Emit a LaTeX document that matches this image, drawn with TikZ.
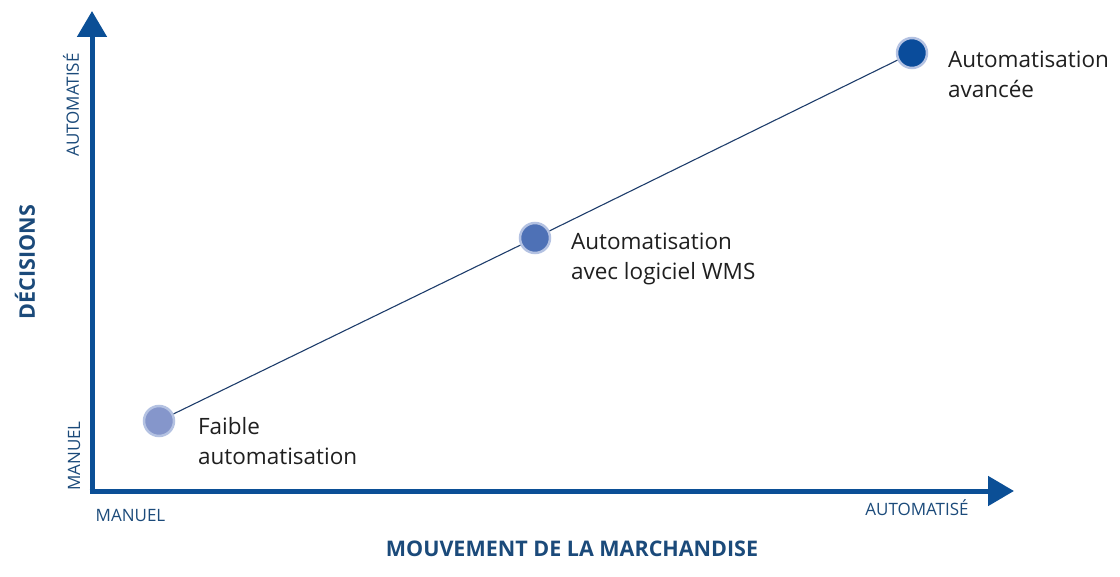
\documentclass[tikz,border=0pt]{standalone}
\usepackage{fontspec}
\setmainfont{Open Sans}
\usetikzlibrary{arrows.meta}
\definecolor{axisblue}{HTML}{0B4F96}
\definecolor{labblue}{HTML}{1B4A7A}
\definecolor{linkblue}{HTML}{1E3D6B}
\definecolor{dotA}{HTML}{8596CB}
\definecolor{dotB}{HTML}{4E71B6}
\definecolor{dotC}{HTML}{0A4C9B}
\definecolor{halo}{HTML}{B4C2E2}
\tikzset{
  axis/.style={line width=5pt, draw=axisblue, -{Triangle[length=26pt,width=29pt]}},
  dot/.style={circle, minimum size=30pt, inner sep=0pt, draw=halo, line width=2.5pt},
  desc/.style={anchor=west, align=left, text=black!88, font=\fontsize{22.5}{30}\selectfont},
  tick/.style={text=labblue, font=\fontsize{17}{18}\selectfont},
  title/.style={text=labblue, font=\bfseries\fontsize{21.5}{24}\selectfont},
  link/.style={draw=linkblue, line width=1.1pt}
}
\begin{document}
\begin{tikzpicture}[x=1pt,y=-1pt]
\useasboundingbox (0,0) rectangle (1120,577);
\coordinate (o) at (92,491);
\coordinate (ytip) at (92,11);
\coordinate (xtip) at (1014,491);
\draw[axis] (92,493.5) -- (ytip);
\draw[axis] (89.5,491) -- (xtip);
\node[dot, fill=dotA] (p1) at (159,421) {};
\node[dot, fill=dotB] (p2) at (535,238) {};
\node[dot, fill=dotC] (p3) at (912,53) {};
\draw[link] (p1) -- (p2);
\draw[link] (p2) -- (p3);
\node[desc] (t1) at (194.5,441) {Faible\\automatisation};
\node[desc] (t2) at (567.5,259) {Automatisation\\avec logiciel WMS};
\node[desc] (t3) at (944.5,74) {Automatisation\\avancée};
\node[tick, rotate=90] (ya) at (71,105) {AUTOMATISÉ};
\node[tick, rotate=90] (ym) at (74,456) {MANUEL};
\node[tick] (xm) at (130.5,515) {MANUEL};
\node[tick] (xa) at (917,508) {AUTOMATISÉ};
\node[title, rotate=90] (yt) at (25,262) {DÉCISIONS};
\node[title] (xt) at (572,549) {MOUVEMENT DE LA MARCHANDISE};
\end{tikzpicture}
\end{document}
